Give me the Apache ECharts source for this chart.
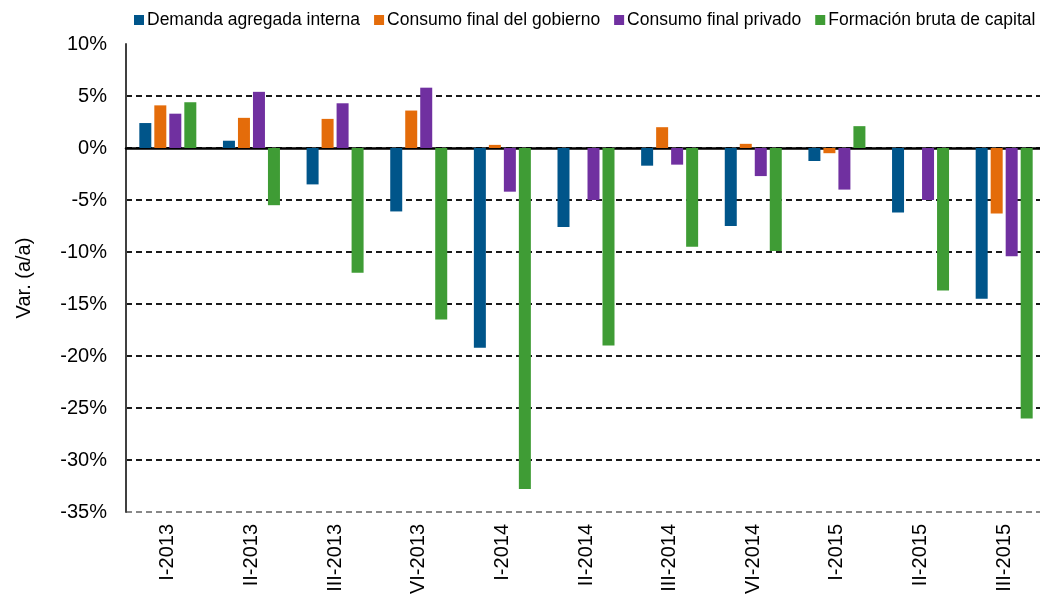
<!DOCTYPE html>
<html>
<head>
<meta charset="utf-8">
<script src="https://cdn.jsdelivr.net/npm/echarts@6/dist/echarts.min.js"></script>
<style>
html, body { margin: 0; padding: 0; background: #fff; overflow: hidden; width: 1040px; height: 601px; }
#chart { width: 1048px; height: 601px; }
</style>
</head>
<body>
<div id="chart"></div>
<script>
// trimestres
var categories = ['I-2013', 'II-2013', 'III-2013', 'VI-2013', 'I-2014', 'II-2014',
    'III-2014', 'VI-2014', 'I-2015', 'II-2015', 'III-2015'];
var seriesNames = ['Demanda agregada interna', 'Consumo final del gobierno',
    'Consumo final privado', 'Formación bruta de capital'];
// variaciones a/a en %
var demanda = [2.4, 0.7, -3.5, -6.1, -19.2, -7.6, -1.7, -7.5, -1.25, -6.2, -14.5];
var gobierno = [4.1, 2.9, 2.8, 3.6, 0.3, 0, 2.0, 0.4, -0.5, 0, -6.3];
var privado = [3.3, 5.4, 4.3, 5.8, -4.2, -5.0, -1.6, -2.7, -4.0, -5.0, -10.4];
var formacion = [4.4, -5.5, -12.0, -16.5, -32.8, -19.0, -9.5, -9.9, 2.1, -13.7, -26.0];
var yTicks = [10, 5, 0, -5, -10, -15, -20, -25, -30, -35];

var colors = ['#00558A', '#E46C0A', '#7030A0', '#3F9C35'];
var values = [demanda, gobierno, privado, formacion];

var chart = echarts.init(document.getElementById('chart'));
var font = 'Liberation Sans, Arial, sans-serif';

var series = seriesNames.map(function (name, i) {
    return {
        name: name,
        type: 'bar',
        xAxisIndex: 0,
        barWidth: 12,
        barGap: '25%',
        itemStyle: { color: colors[i] },
        data: values[i]
    };
});

// lineas de division: la de -35% gris, la de 10% no se ve
var gridColors = yTicks.slice().reverse().map(function (t, i) {
    if (i === 0) return '#888';
    if (t === yTicks[0]) return 'rgba(0,0,0,0)';
    return '#1a1a1a';
});

chart.setOption({
    backgroundColor: '#ffffff',
    color: colors,
    textStyle: { fontFamily: font },
    legend: {
        top: 6,
        left: 129,
        width: 960,
        itemWidth: 10,
        itemHeight: 10,
        itemGap: 14,
        icon: 'rect',
        textStyle: { fontFamily: font, fontSize: 17.5, color: '#000', padding: [0, 0, 0, -2] },
        data: seriesNames
    },
    grid: { left: 126, top: 44, bottom: 89, width: 920 },
    xAxis: [{
        type: 'category',
        data: categories,
        position: 'bottom',
        axisLine: { show: false, onZero: false },
        axisTick: { show: false },
        axisLabel: {
            rotate: 90,
            margin: 12,
            fontSize: 20,
            color: '#000',
            fontFamily: font
        }
    }, {
        type: 'category',
        data: categories,
        position: 'bottom',
        axisLine: { onZero: true, lineStyle: { color: '#000', width: 2.5 } },
        axisTick: { show: false },
        axisLabel: { show: false }
    }],
    yAxis: {
        type: 'value',
        min: yTicks[yTicks.length - 1],
        max: yTicks[0],
        interval: 5,
        name: 'Var. (a/a)',
        nameLocation: 'middle',
        nameGap: 92,
        nameTextStyle: { fontSize: 20, color: '#000', fontFamily: font },
        axisLine: { show: true, lineStyle: { color: '#404040', width: 2 } },
        axisTick: { show: false },
        axisLabel: {
            fontSize: 20,
            color: '#000',
            margin: 19,
            fontFamily: font,
            formatter: function (v) { return v + '%'; }
        },
        splitLine: {
            show: true,
            lineStyle: { type: [6, 4], color: gridColors, width: 1.8 }
        }
    },
    series: series
});
</script>
</body>
</html>
